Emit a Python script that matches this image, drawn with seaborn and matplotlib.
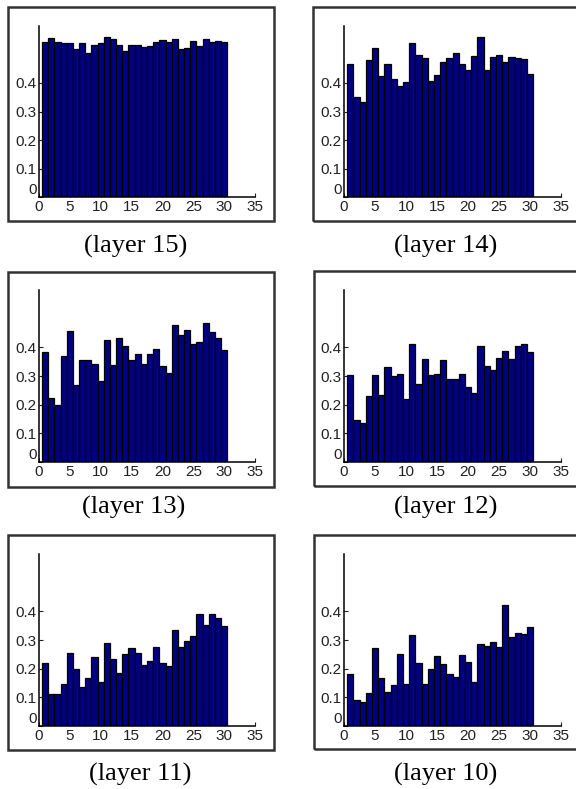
import matplotlib
matplotlib.use("Agg")
import matplotlib.pyplot as plt
import seaborn as sns
import numpy as np
import pandas as pd
from matplotlib.patches import Rectangle

sns.set_theme(style="ticks")
plt.rcParams['font.family'] = ['Liberation Sans', 'DejaVu Sans']

bins = list(range(1, 31))

layer15 = [0.543, 0.559, 0.543, 0.539, 0.539, 0.520, 0.539, 0.506, 0.534, 0.539,
           0.562, 0.553, 0.535, 0.514, 0.535, 0.535, 0.527, 0.529, 0.543, 0.551,
           0.543, 0.556, 0.518, 0.524, 0.549, 0.529, 0.555, 0.543, 0.549, 0.544]
layer14 = [0.465, 0.351, 0.335, 0.482, 0.522, 0.424, 0.465, 0.414, 0.388, 0.405,
           0.541, 0.500, 0.487, 0.406, 0.429, 0.475, 0.487, 0.504, 0.465, 0.447,
           0.494, 0.560, 0.445, 0.491, 0.498, 0.475, 0.491, 0.487, 0.485, 0.432]
layer13 = [0.384, 0.225, 0.200, 0.371, 0.457, 0.270, 0.357, 0.357, 0.341, 0.281,
           0.426, 0.340, 0.431, 0.405, 0.357, 0.377, 0.343, 0.377, 0.394, 0.336,
           0.309, 0.478, 0.443, 0.461, 0.410, 0.418, 0.484, 0.453, 0.432, 0.389]
layer12 = [0.305, 0.146, 0.137, 0.230, 0.302, 0.233, 0.330, 0.301, 0.306, 0.219,
           0.413, 0.273, 0.361, 0.303, 0.308, 0.356, 0.289, 0.290, 0.308, 0.260,
           0.239, 0.403, 0.335, 0.321, 0.364, 0.387, 0.361, 0.406, 0.413, 0.384]
layer11 = [0.219, 0.111, 0.111, 0.147, 0.254, 0.200, 0.136, 0.166, 0.239, 0.153,
           0.291, 0.235, 0.186, 0.251, 0.273, 0.256, 0.214, 0.226, 0.275, 0.219,
           0.208, 0.336, 0.277, 0.295, 0.315, 0.389, 0.353, 0.392, 0.378, 0.350]
layer10 = [0.182, 0.090, 0.085, 0.116, 0.273, 0.167, 0.118, 0.144, 0.251, 0.147,
           0.318, 0.220, 0.147, 0.200, 0.243, 0.218, 0.180, 0.171, 0.248, 0.225,
           0.153, 0.285, 0.280, 0.292, 0.274, 0.423, 0.310, 0.326, 0.322, 0.346]

series = [layer15, layer14, layer13, layer12, layer11, layer10]
titles = ["(layer 15)", "(layer 14)", "(layer 13)", "(layer 12)", "(layer 11)", "(layer 10)"]
x_ticks = [0, 5, 10, 15, 20, 25, 30, 35]
y_ticks = [0, 0.1, 0.2, 0.3, 0.4]
y_tick_labels = ["0", "0.1", "0.2", "0.3", "0.4"]

W, H = 576, 789
fig = plt.figure(figsize=(W / 100, H / 100), dpi=100)

# layout in pixels: axes (left, right, top, bottom), frame (x0, x1, y0, y1), label (x, y)
axes_px = [(39, 255, 26, 197), (344, 561, 26, 197),
           (39, 255, 290, 462), (344, 561, 290, 462),
           (39, 255, 554, 726), (344, 561, 554, 726)]
frame_px = [(8, 274, 7, 221), (313, 600, 7, 221),
            (8, 274, 272, 487), (314, 600, 271, 486),
            (8, 274, 535, 750), (314, 600, 535, 749)]
label_px = [(136, 246), (446, 246), (134, 507), (446, 507), (140, 774), (446, 774)]

for vals, title, (l, r, t, b), (fx0, fx1, fy0, fy1), (lx, ly) in zip(
        series, titles, axes_px, frame_px, label_px):
    ax = fig.add_axes([l / W, 1 - b / H, (r - l) / W, (b - t) / H])
    ax.set_facecolor("none")
    df = pd.DataFrame({"bin": bins, "value": vals})
    sns.barplot(data=df, x="bin", y="value", native_scale=True, width=1.0,
                color="#000080", saturation=1, edgecolor="black", linewidth=0.9,
                errorbar=None, ax=ax)
    ax.set_xlim(0, 35)
    ax.set_ylim(0, 0.6)
    ax.set_xticks(x_ticks)
    ax.set_xticklabels([str(v) for v in x_ticks])
    ax.set_yticks(y_ticks)
    ax.set_yticklabels(y_tick_labels)
    ax.set_xlabel("")
    ax.set_ylabel("")
    for s in ["top", "right"]:
        ax.spines[s].set_visible(False)
    for s in ["left", "bottom"]:
        ax.spines[s].set_color("black")
        ax.spines[s].set_linewidth(1.1)
    ax.tick_params(direction="in", length=3, width=0.8, labelsize=11,
                   colors="#222222")
    ax.tick_params(axis="y", pad=1.5)
    ax.tick_params(axis="x", pad=2.5)
    ax.get_yticklabels()[0].set_verticalalignment("bottom")
    fig.patches.append(Rectangle((fx0 / W, 1 - fy1 / H), (fx1 - fx0) / W, (fy1 - fy0) / H,
                                 transform=fig.transFigure, fill=False,
                                 lw=1.8, ec="#333333"))
    fig.text(lx / W, 1 - ly / H, title, ha="center", va="center",
             family=["Liberation Serif", "DejaVu Serif"], fontsize=19, color="black")

fig.savefig("out.png", dpi=100, facecolor="white")
